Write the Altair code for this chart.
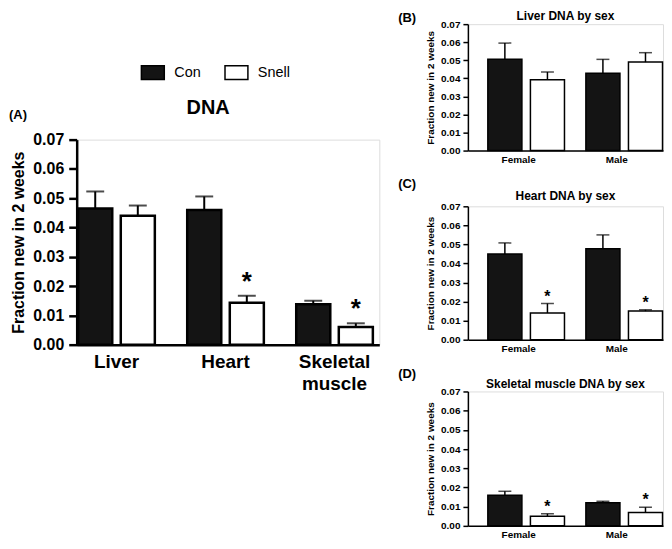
import altair as alt
import pandas as pd

FONT = "Liberation Sans"

groups = ["Con", "Snell"]
group_colors = ["#141414", "#ffffff"]
y_ticks = [0.0, 0.01, 0.02, 0.03, 0.04, 0.05, 0.06, 0.07]

# Panel A: DNA by tissue
a_cats = ["Liver", "Heart", "Skeletal muscle"]
a_con = [0.0465, 0.0460, 0.0138]
a_con_err = [0.0058, 0.0046, 0.0012]
a_snell = [0.0440, 0.0143, 0.0060]
a_snell_err = [0.0035, 0.0024, 0.0013]
a_sig = ["", "*", "*"]

# Panels B-D: by sex
sexes = ["Female", "Male"]
b_con = [0.0505, 0.0428]
b_con_err = [0.0090, 0.0077]
b_snell = [0.0392, 0.0490]
b_snell_err = [0.0043, 0.0052]
b_sig = ["", ""]

c_con = [0.0450, 0.0477]
c_con_err = [0.0058, 0.0073]
c_snell = [0.0140, 0.0150]
c_snell_err = [0.0050, 0.0007]
c_sig = ["*", "*"]

d_con = [0.0160, 0.0120]
d_con_err = [0.0020, 0.0008]
d_snell = [0.0050, 0.0070]
d_snell_err = [0.0013, 0.0027]
d_sig = ["*", "*"]


def build_df(cats, con, con_err, snell, snell_err, sig):
    rows = []
    for i, c in enumerate(cats):
        rows.append(dict(cat=c, group="Con", value=con[i], upper=con[i] + con_err[i], sig=""))
        rows.append(dict(cat=c, group="Snell", value=snell[i], upper=snell[i] + snell_err[i], sig=sig[i]))
    return pd.DataFrame(rows)


def panel(df, cats, st):
    xscale = alt.Scale(paddingInner=st["pi"], paddingOuter=st["po"], align=st["align"])
    axis_x = dict(labelAngle=0, ticks=False, domainColor="black", domainWidth=st["dw"],
                  labelFont=FONT, labelFontSize=st["xfs"], labelFontWeight="bold",
                  labelColor="black", labelPadding=st["xpad"], labelLineHeight=st["xlh"])
    if st.get("xexpr"):
        axis_x["labelExpr"] = st["xexpr"]
    x = alt.X("cat:N", sort=cats, title=None, scale=xscale, axis=alt.Axis(**axis_x))
    xo = alt.XOffset("group:N", sort=groups, scale=alt.Scale(paddingInner=st["spi"]))
    yscale = alt.Scale(domain=[0, 0.07], nice=False)
    y_axis = alt.Axis(values=y_ticks, format=".2f", grid=False, domainColor="black",
                      domainWidth=st["dw"], tickColor="black", tickWidth=st["dw"],
                      tickSize=st["ts"], labelFont=FONT, labelFontSize=st["yfs"],
                      labelFontWeight="bold", labelColor="black", labelPadding=st["ypad"],
                      title="Fraction new in 2 weeks", titleFont=FONT, titleFontSize=st["tfs"],
                      titleFontWeight="bold", titleColor="black", titlePadding=st["tpad"])
    color = alt.Color("group:N", scale=alt.Scale(domain=groups, range=group_colors),
                      legend=st["legend"])
    base = alt.Chart(df)
    bars = base.mark_bar(stroke="black", strokeWidth=st["bsw"]).encode(
        x=x, xOffset=xo, y=alt.Y("value:Q", scale=yscale, axis=y_axis), color=color)
    stems = base.mark_rule(color="black", strokeWidth=st["esw"]).encode(
        x=x, xOffset=xo, y=alt.Y("value:Q", scale=yscale, axis=y_axis), y2="upper:Q")
    caps = base.mark_tick(color="black", thickness=st["esw"], size=st["cap"]).encode(
        x=x, xOffset=xo, y=alt.Y("upper:Q", scale=yscale, axis=y_axis))
    stars = base.mark_text(fontSize=st["sfs"], fontWeight="bold", dy=st["sdy"],
                           baseline="alphabetic", color="black", font=FONT).encode(
        x=x, xOffset=xo, y=alt.Y("upper:Q", scale=yscale, axis=y_axis), text="sig:N")
    tag = alt.Chart(pd.DataFrame({"t": [st["tag"]]})).mark_text(
        align="left", baseline="middle", fontSize=13, fontWeight="bold", font=FONT,
        color="black").encode(x=alt.value(st["tagx"]), y=alt.value(st["tagy"]), text="t:N")
    head = alt.Chart(pd.DataFrame({"t": [st["title"]]})).mark_text(
        align="center", baseline="middle", fontSize=st["tsz"], fontWeight="bold", font=FONT,
        color="black").encode(x=alt.value(st["w"] / 2 + st["tdx"]), y=alt.value(st["ty"]),
                              text="t:N")
    return alt.layer(bars, stems, caps, stars, tag, head).properties(
        width=st["w"], height=st["h"])


legend_a = alt.Legend(orient="none", legendX=64, legendY=-80, direction="horizontal",
                      title=None, symbolType="M-1,-0.6H1V0.6H-1Z", symbolSize=529,
                      symbolStrokeColor="black", symbolStrokeWidth=1.5, symbolOpacity=1,
                      labelFont=FONT, labelFontSize=14.5, labelColor="black",
                      labelOffset=9, columnPadding=21)

style_a = dict(pi=0.297, po=0.0365, align=0.19, spi=0.2, dw=2.5, xfs=19, xpad=8, xlh=22,
               xexpr="datum.label == 'Skeletal muscle' ? ['Skeletal', 'muscle'] : datum.label",
               ts=8, yfs=16, ypad=5, tfs=16, tpad=6, legend=legend_a, bsw=2.5, esw=2,
               cap=18, sfs=26, sdy=-6, tag="(A)", tagx=-68, tagy=-25, w=304, h=206,
               title="DNA", tsz=20, ty=-32, tdx=-20)

small = dict(pi=0.37, po=0.18, align=0.565, spi=0.355, dw=1.5, xfs=10, xpad=4, xlh=12,
             ts=5, yfs=10, ypad=3, tfs=10, tpad=5, legend=None, bsw=1.5, esw=1.5,
             cap=13, sfs=16, sdy=-2, tagx=-70, w=196, tsz=12, tdx=0)

chart_a = panel(build_df(a_cats, a_con, a_con_err, a_snell, a_snell_err, a_sig), a_cats, style_a)
chart_b = panel(build_df(sexes, b_con, b_con_err, b_snell, b_snell_err, b_sig), sexes,
                dict(small, tag="(B)", tagy=-6, ty=-8, h=127, title="Liver DNA by sex"))
chart_c = panel(build_df(sexes, c_con, c_con_err, c_snell, c_snell_err, c_sig), sexes,
                dict(small, tag="(C)", tagy=-22, ty=-10, h=134, title="Heart DNA by sex"))
chart_d = panel(build_df(sexes, d_con, d_con_err, d_snell, d_snell_err, d_sig), sexes,
                dict(small, tag="(D)", tagy=-18, ty=-7, h=135, title="Skeletal muscle DNA by sex"))

spacer = alt.Chart(pd.DataFrame({"t": [""]})).mark_text().encode(text="t:N").properties(
    width=100, height=35)

left = alt.vconcat(spacer, chart_a, spacing=0).resolve_scale(color="independent")
right = alt.vconcat(chart_b, chart_c, chart_d, spacing=12).resolve_scale(color="independent")

chart = alt.hconcat(left, right, spacing=17).resolve_scale(color="independent").properties(
    padding={"left": 0, "top": 0, "right": 0, "bottom": 0}
).configure_view(stroke=None).configure(font=FONT)

chart.save("out.html", embed_options={"renderer": "svg", "actions": False})
